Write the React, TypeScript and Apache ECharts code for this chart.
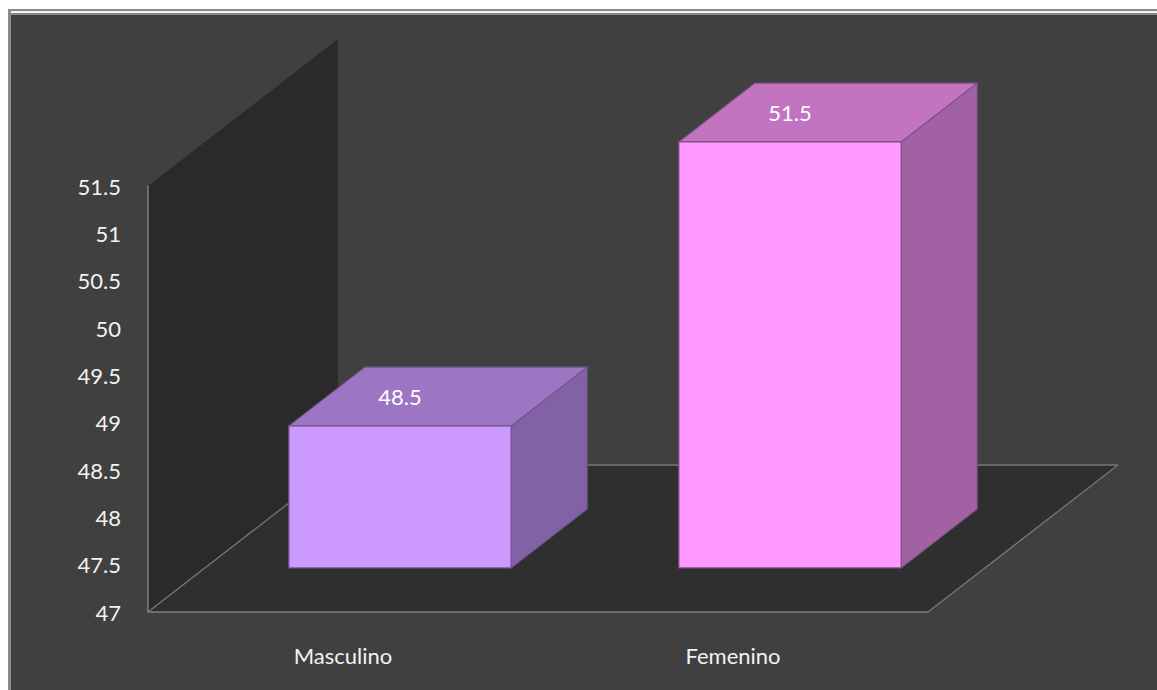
import React, { useEffect, useRef } from "react";
import * as echarts from "echarts";

const categories = ["Masculino", "Femenino"];
const values = [48.5, 51.5];
const frontColors = ["#CC99FF", "#FF99FF"];
const topColors = ["#9C75C3", "#C274C0"];
const sideColors = ["#8262A4", "#A261A3"];
const edgeColors = ["#6E5490", "#7A5088"];

// Oblique projection of the chart box: how far the back plane is shifted.
const DEPTH_X = 190;
const DEPTH_Y = 147;
const BAR_FRONT = 0.3;
const BAR_BACK = 0.7;
const BAR_SHARE = 0.57;

const renderChamber = (params: any) => {
  const { x, y, width, height } = params.coordSys;
  const x0 = x;
  const x1 = x + width;
  const y0 = y + height;
  const line = (a: number[], b: number[]) => ({
    type: "line",
    shape: { x1: a[0], y1: a[1], x2: b[0], y2: b[1] },
    style: { stroke: "#777777", lineWidth: 1.3 },
  });
  return {
    type: "group",
    children: [
      {
        type: "polygon",
        shape: {
          points: [
            [x0, y],
            [x0 + DEPTH_X, y - DEPTH_Y],
            [x0 + DEPTH_X, y0 - DEPTH_Y],
            [x0, y0],
          ],
        },
        style: { fill: "#2A2A2A" },
      },
      {
        type: "polygon",
        shape: {
          points: [
            [x0, y0],
            [x1, y0],
            [x1 + DEPTH_X, y0 - DEPTH_Y],
            [x0 + DEPTH_X, y0 - DEPTH_Y],
          ],
        },
        style: { fill: "#2F2F2F" },
      },
      line([x0, y0], [x0 + DEPTH_X, y0 - DEPTH_Y]),
      line([x1, y0], [x1 + DEPTH_X, y0 - DEPTH_Y]),
      line([x0 + DEPTH_X, y0 - DEPTH_Y], [x1 + DEPTH_X, y0 - DEPTH_Y]),
    ],
  };
};

const renderBar = (params: any, api: any) => {
  const i = api.value(0);
  const value = api.value(1);
  const top = api.coord([i, value]);
  const base = api.coord([i, 47]);
  const half = (api.size([1, 0])[0] * BAR_SHARE) / 2;
  const fx = DEPTH_X * BAR_FRONT;
  const fy = DEPTH_Y * BAR_FRONT;
  const dx = DEPTH_X * (BAR_BACK - BAR_FRONT);
  const dy = DEPTH_Y * (BAR_BACK - BAR_FRONT);
  const left = top[0] + fx - half;
  const right = top[0] + fx + half;
  const yTop = top[1] - fy;
  const yBase = base[1] - fy;
  const edge = { stroke: edgeColors[i], lineWidth: 1.2, lineJoin: "round" };
  return {
    type: "group",
    children: [
      {
        type: "polygon",
        shape: {
          points: [
            [right, yTop],
            [right + dx, yTop - dy],
            [right + dx, yBase - dy],
            [right, yBase],
          ],
        },
        style: { fill: sideColors[i], ...edge },
      },
      {
        type: "polygon",
        shape: {
          points: [
            [left, yTop],
            [left + dx, yTop - dy],
            [right + dx, yTop - dy],
            [right, yTop],
          ],
        },
        style: { fill: topColors[i], ...edge },
      },
      {
        type: "rect",
        shape: { x: left, y: yTop, width: right - left, height: yBase - yTop },
        style: { fill: frontColors[i], ...edge },
      },
      {
        type: "text",
        x: top[0] + fx,
        y: yTop - dy / 2,
        style: {
          text: String(value),
          fill: "#FFFFFF",
          font: "22px Lato",
          align: "center",
          verticalAlign: "middle",
        },
      },
    ],
  };
};

export default function App() {
  const ref = useRef<HTMLDivElement>(null);

  useEffect(() => {
    const chart = echarts.init(ref.current!, undefined, { renderer: "svg" });
    chart.setOption({
      animation: false,
      backgroundColor: "#FFFFFF",
      // Panel with its double rule along the top edge.
      graphic: [
        { type: "rect", z: -10, shape: { x: 8, y: 9, width: 1149, height: 681 }, style: { fill: "#8A8A8A" } },
        { type: "rect", z: -9, shape: { x: 11, y: 11, width: 1146, height: 2 }, style: { fill: "#F2F2F2" } },
        { type: "rect", z: -9, shape: { x: 11, y: 15, width: 1146, height: 675 }, style: { fill: "#404040" } },
      ],
      grid: { left: 148, right: 229, top: 186, bottom: 78 },
      xAxis: {
        type: "category",
        data: categories,
        z: 5,
        axisLine: { lineStyle: { color: "#7F7F7F", width: 1.5 } },
        axisTick: { show: false },
        axisLabel: { color: "#F2F2F2", fontFamily: "Lato", fontSize: 22, margin: 32 },
      },
      yAxis: {
        type: "value",
        min: 47,
        max: 51.5,
        interval: 0.5,
        z: 5,
        axisLine: { show: true, lineStyle: { color: "#7F7F7F", width: 1.5 } },
        axisTick: { show: false },
        splitLine: { show: false },
        axisLabel: { color: "#F2F2F2", fontFamily: "Lato", fontSize: 22, margin: 27 },
      },
      series: [
        {
          type: "custom",
          z: 1,
          silent: true,
          clip: false,
          renderItem: renderChamber,
          data: [[0, 47]],
        },
        {
          type: "custom",
          z: 10,
          clip: false,
          renderItem: renderBar,
          encode: { x: 0, y: 1 },
          data: values.map((v, i) => [i, v]),
        },
      ],
    });
    return () => chart.dispose();
  }, []);

  return <div ref={ref} style={{ position: "fixed", left: 0, top: 0, width: 1157, height: 690 }} />;
}
